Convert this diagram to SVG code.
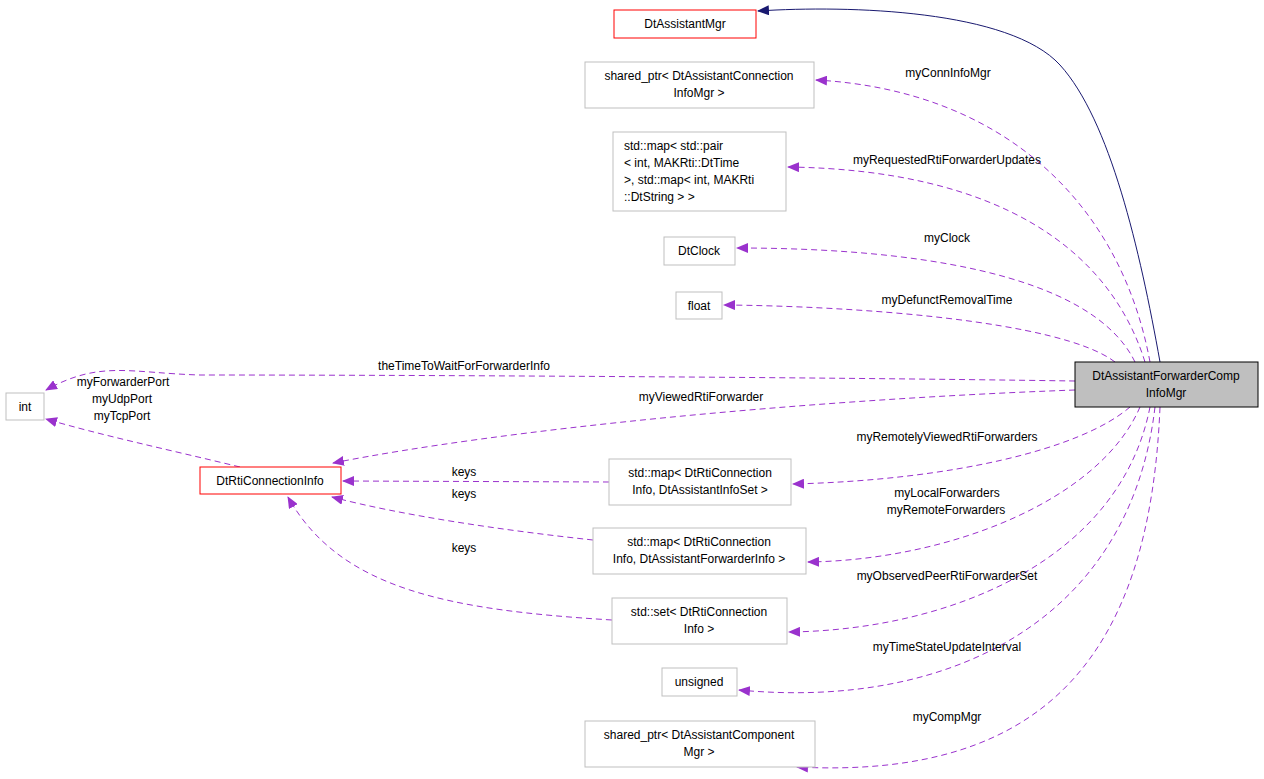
<svg xmlns="http://www.w3.org/2000/svg" width="1264" height="779" viewBox="0 0 1264 779">
<style>
text{font-family:"Liberation Sans",Arial,sans-serif;font-size:12px;fill:#000}
.n rect{fill:#fff;stroke:#bfbfbf;stroke-width:1}
.r rect{stroke:#ff0000}
.m rect{fill:#bfbfbf;stroke:#000}
.e path{fill:none;stroke:#9a32cd;stroke-dasharray:6,4;marker-end:url(#pa)}
.e path.s{stroke:#191970;stroke-dasharray:none;marker-end:url(#na)}
.c{text-anchor:middle}
</style>
<defs>
<marker id="pa" markerWidth="12" markerHeight="10" refX="11" refY="5" orient="auto" markerUnits="userSpaceOnUse"><path d="M0,0 L12,5 L0,10 z" fill="#9a32cd"/></marker>
<marker id="na" markerWidth="12" markerHeight="10" refX="11" refY="5" orient="auto" markerUnits="userSpaceOnUse"><path d="M0,0 L12,5 L0,10 z" fill="#191970"/></marker>
</defs>
<rect width="1264" height="779" fill="#fff"/>
<g class="e">
<path class="s" d="M1160,362 C1140,250 1110,120 1060,65 C1010,10 850,5 758,11"/>
<path d="M1150,362 C1120,200 1000,90 816,80"/>
<path d="M1145,362 C1110,250 1000,170 788,167"/>
<path d="M1135,362 C1090,270 900,248 737,248"/>
<path d="M1115,362 C1060,320 850,306 724,305"/>
<path d="M1075,381 C800,377 400,375 200,375 C130,373 100,360 46,390"/>
<path d="M1075,390 C800,400 500,430 333,463"/>
<path d="M240,467 C170,450 100,435 46,419"/>
<path d="M609,482 L343,481"/>
<path d="M593,540 C500,530 400,515 332,497"/>
<path d="M612,620 C450,610 340,590 288,497"/>
<path d="M1130,407 C1080,450 950,480 793,484"/>
<path d="M1140,407 C1100,500 950,560 808,562"/>
<path d="M1150,407 C1120,560 950,630 789,632"/>
<path d="M1155,407 C1130,620 950,710 739,690"/>
<path d="M1160,407 C1150,650 1050,780 797,767"/>
</g>
<g>
<text x="948" y="77" class="c">myConnInfoMgr</text>
<text x="947" y="164" class="c">myRequestedRtiForwarderUpdates</text>
<text x="947" y="242" class="c">myClock</text>
<text x="947" y="304" class="c">myDefunctRemovalTime</text>
<text x="464" y="370" class="c">theTimeToWaitForForwarderInfo</text>
<text x="701" y="401" class="c">myViewedRtiForwarder</text>
<text x="123" y="386" class="c">myForwarderPort</text>
<text x="122" y="403" class="c">myUdpPort</text>
<text x="122" y="420" class="c">myTcpPort</text>
<text x="464" y="476" class="c">keys</text>
<text x="464" y="498" class="c">keys</text>
<text x="464" y="552" class="c">keys</text>
<text x="947" y="441" class="c">myRemotelyViewedRtiForwarders</text>
<text x="947" y="497" class="c">myLocalForwarders</text>
<text x="946" y="514" class="c">myRemoteForwarders</text>
<text x="947" y="580" class="c">myObservedPeerRtiForwarderSet</text>
<text x="947" y="651" class="c">myTimeStateUpdateInterval</text>
<text x="947" y="721" class="c">myCompMgr</text>
</g>
<g id="main" class="n m"><rect x="1075" y="362" width="183" height="45"/><text x="1166" y="380" class="c">DtAssistantForwarderComp</text><text x="1166" y="397" class="c">InfoMgr</text></g>
<g id="mgr" class="n r"><rect x="614" y="10" width="142" height="28"/><text x="685" y="28" class="c">DtAssistantMgr</text></g>
<g id="conninfo" class="n"><rect x="585" y="62" width="229" height="46"/><text x="699" y="80" class="c">shared_ptr&lt; DtAssistantConnection</text><text x="699" y="97" class="c">InfoMgr &gt;</text></g>
<g id="reqmap" class="n"><rect x="613" y="132" width="173" height="79"/><text x="624" y="150">std::map&lt; std::pair</text><text x="624" y="167">&lt; int, MAKRti::DtTime</text><text x="624" y="184"> &gt;, std::map&lt; int, MAKRti</text><text x="624" y="201">::DtString &gt; &gt;</text></g>
<g id="clock" class="n"><rect x="664" y="237" width="71" height="28"/><text x="699" y="255" class="c">DtClock</text></g>
<g id="float" class="n"><rect x="676" y="292" width="46" height="27"/><text x="699" y="310" class="c">float</text></g>
<g id="int" class="n"><rect x="6" y="393" width="38" height="27"/><text x="25" y="411" class="c">int</text></g>
<g id="rci" class="n r"><rect x="200" y="467" width="141" height="27"/><text x="270" y="485" class="c">DtRtiConnectionInfo</text></g>
<g id="map1" class="n"><rect x="609" y="459" width="182" height="46"/><text x="700" y="477" class="c">std::map&lt; DtRtiConnection</text><text x="700" y="494" class="c">Info, DtAssistantInfoSet &gt;</text></g>
<g id="map2" class="n"><rect x="593" y="528" width="213" height="46"/><text x="699" y="546" class="c">std::map&lt; DtRtiConnection</text><text x="699" y="563" class="c">Info, DtAssistantForwarderInfo &gt;</text></g>
<g id="set" class="n"><rect x="612" y="598" width="175" height="46"/><text x="699" y="616" class="c">std::set&lt; DtRtiConnection</text><text x="699" y="633" class="c">Info &gt;</text></g>
<g id="unsigned" class="n"><rect x="662" y="668" width="75" height="28"/><text x="699" y="686" class="c">unsigned</text></g>
<g id="compmgr" class="n"><rect x="585" y="721" width="230" height="46"/><text x="699" y="739" class="c">shared_ptr&lt; DtAssistantComponent</text><text x="699" y="756" class="c">Mgr &gt;</text></g>
</svg>
